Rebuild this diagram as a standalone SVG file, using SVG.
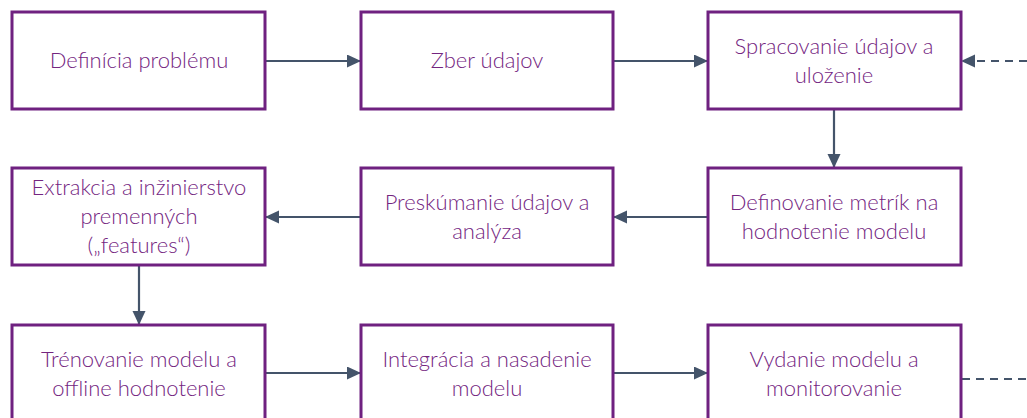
<svg xmlns="http://www.w3.org/2000/svg" width="1027" height="418" viewBox="0 0 1027 418">
<style>
.box{fill:#fff;stroke:#6f2180;stroke-width:3}
.t{font-family:Lato,"Noto Sans",sans-serif;font-size:22px;font-weight:300;fill:#74257f;text-anchor:middle}
.c{stroke:#44546a;stroke-width:2.2;fill:none}
.d{stroke:#44546a;stroke-width:2.2;fill:none;stroke-dasharray:8 6}
</style>
<defs>
<marker id="ah" markerWidth="14" markerHeight="14" refX="13" refY="6.5" orient="auto" markerUnits="userSpaceOnUse">
<path d="M0,0 L14,6.5 L0,13 Z" fill="#44546a"/>
</marker>
</defs>
<rect width="1027" height="418" fill="#fff"/>
<g id="connectors">
<line class="c" x1="266" y1="61" x2="360" y2="61" marker-end="url(#ah)"/>
<line class="c" x1="614" y1="61" x2="707" y2="61" marker-end="url(#ah)"/>
<line class="d" x1="1027" y1="61" x2="962" y2="61" marker-end="url(#ah)"/>
<line class="c" x1="834" y1="110" x2="834" y2="167" marker-end="url(#ah)"/>
<line class="c" x1="707" y1="217" x2="614" y2="217" marker-end="url(#ah)"/>
<line class="c" x1="360" y1="217" x2="266" y2="217" marker-end="url(#ah)"/>
<line class="c" x1="139" y1="266" x2="139" y2="324" marker-end="url(#ah)"/>
<line class="c" x1="266" y1="373" x2="360" y2="373" marker-end="url(#ah)"/>
<line class="c" x1="614" y1="373" x2="707" y2="373" marker-end="url(#ah)"/>
<line class="d" x1="962" y1="379" x2="1027" y2="379"/>
</g>
<g id="n1"><rect class="box" x="12" y="12" width="253" height="97"/><text class="t" x="139" y="68">Definícia problému</text></g>
<g id="n2"><rect class="box" x="361" y="12" width="252" height="97"/><text class="t" x="487" y="68">Zber údajov</text></g>
<g id="n3"><rect class="box" x="708" y="12" width="253" height="97"/><text class="t" x="834" y="54">Spracovanie údajov a</text><text class="t" x="834" y="83">uloženie</text></g>
<g id="n4"><rect class="box" x="708" y="168" width="253" height="97"/><text class="t" x="834" y="210">Definovanie metrík na</text><text class="t" x="834" y="239">hodnotenie modelu</text></g>
<g id="n5"><rect class="box" x="361" y="168" width="252" height="97"/><text class="t" x="487" y="210">Preskúmanie údajov a</text><text class="t" x="487" y="239">analýza</text></g>
<g id="n6"><rect class="box" x="12" y="168" width="253" height="97"/><text class="t" x="139" y="195">Extrakcia a inžinierstvo</text><text class="t" x="139" y="224">premenných</text><text class="t" x="139" y="253">(„features“)</text></g>
<g id="n7"><rect class="box" x="12" y="325" width="253" height="97"/><text class="t" x="139" y="367">Trénovanie modelu a</text><text class="t" x="139" y="396">offline hodnotenie</text></g>
<g id="n8"><rect class="box" x="361" y="325" width="252" height="97"/><text class="t" x="487" y="367">Integrácia a nasadenie</text><text class="t" x="487" y="396">modelu</text></g>
<g id="n9"><rect class="box" x="708" y="325" width="253" height="97"/><text class="t" x="834" y="367">Vydanie modelu a</text><text class="t" x="834" y="396">monitorovanie</text></g>
</svg>
